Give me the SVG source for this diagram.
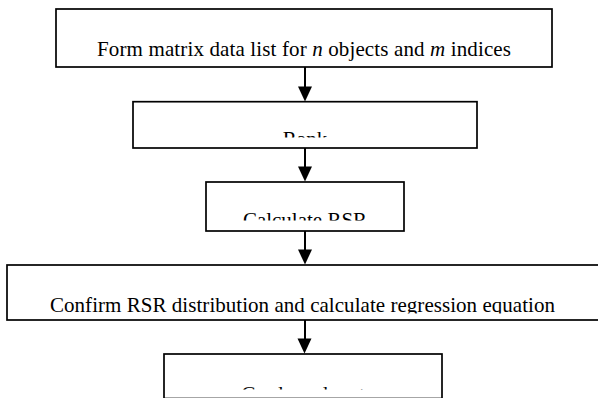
<svg xmlns="http://www.w3.org/2000/svg" width="598" height="398" viewBox="0 0 598 398">
<style>
.box{fill:#fff;stroke:#000;stroke-width:1.7}
.lbl{font-family:"Liberation Serif","Times New Roman",serif;font-size:21px;fill:#000;text-anchor:middle}
.shaft{stroke:#000;stroke-width:2;fill:none}
.head{fill:#000;stroke:none}
</style>
<defs>
<clipPath id="c2"><rect x="134" y="102" width="342" height="35.5"/></clipPath>
<clipPath id="c3"><rect x="207" y="182" width="196" height="38.5"/></clipPath>
<clipPath id="c4"><rect x="8" y="266" width="590" height="47.5"/></clipPath>
<clipPath id="c5"><rect x="165" y="355" width="276" height="34.5"/></clipPath>
</defs>
<rect width="598" height="398" fill="#fff"/>
<g id="connectors">
<line class="shaft" x1="305" y1="67" x2="305" y2="88"/>
<polygon class="head" points="298,86.5 312,86.5 305,101.5"/>
<line class="shaft" x1="305" y1="148" x2="305" y2="168"/>
<polygon class="head" points="298,166.5 312,166.5 305,181.5"/>
<line class="shaft" x1="305" y1="231" x2="305" y2="251"/>
<polygon class="head" points="298,249.5 312,249.5 305,264.5"/>
<line class="shaft" x1="305" y1="320" x2="305" y2="340"/>
<polygon class="head" points="297.5,338.5 311.5,338.5 304.5,353.5"/>
</g>
<g id="node1">
<rect class="box" x="56" y="9" width="496" height="58"/>
<text class="lbl" x="304" y="56" textLength="414">Form matrix data list for <tspan font-style="italic">n</tspan> objects and <tspan font-style="italic">m</tspan> indices</text>
</g>
<g id="node2">
<rect class="box" x="133" y="101.7" width="344" height="46.3"/>
<text class="lbl" x="305" y="145.6" clip-path="url(#c2)">Rank</text>
</g>
<g id="node3">
<rect class="box" x="206" y="182" width="198" height="49"/>
<text class="lbl" x="305" y="227" clip-path="url(#c3)">Calculate RSR</text>
</g>
<g id="node4">
<rect class="box" x="7" y="265" width="596" height="55"/>
<text class="lbl" x="302.5" y="312" textLength="505" clip-path="url(#c4)">Confirm RSR distribution and calculate regression equation</text>
</g>
<g id="node5">
<rect class="box" x="164" y="354" width="278" height="44.5"/>
<text class="lbl" x="303" y="400.6" clip-path="url(#c5)">Grade and sort</text>
</g>
</svg>
